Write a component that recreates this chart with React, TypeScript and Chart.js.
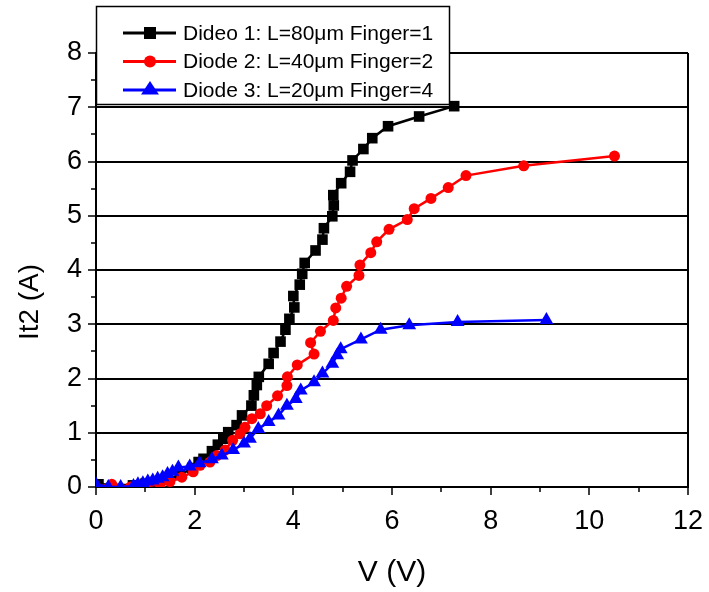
import React, { useEffect, useRef } from "react";
import { Chart, registerables } from "chart.js";

Chart.register(...registerables);

// ---- data ----
const vDiode1 = [0.05, 0.75, 1.0, 1.2, 1.45, 1.7, 1.95, 2.08, 2.18, 2.35, 2.47, 2.58, 2.68, 2.85, 2.96, 3.15, 3.2, 3.26, 3.3, 3.5, 3.6, 3.74, 3.84, 3.92, 4.02, 4.0, 4.13, 4.18, 4.23, 4.45, 4.59, 4.62, 4.79, 4.82, 4.81, 4.97, 5.15, 5.2, 5.42, 5.6, 5.92, 6.55, 7.26];
const iDiode1 = [0.05, 0.03, 0.06, 0.09, 0.14, 0.22, 0.35, 0.46, 0.52, 0.66, 0.78, 0.89, 1.01, 1.14, 1.32, 1.5, 1.69, 1.88, 2.03, 2.27, 2.47, 2.68, 2.9, 3.1, 3.31, 3.52, 3.73, 3.93, 4.13, 4.36, 4.56, 4.77, 4.99, 5.19, 5.38, 5.6, 5.81, 6.02, 6.23, 6.43, 6.65, 6.83, 7.02];

const vDiode2 = [0.0, 0.32, 0.7, 1.0, 1.3, 1.5, 1.74, 1.97, 2.11, 2.31, 2.45, 2.62, 2.77, 2.92, 3.02, 3.16, 3.33, 3.46, 3.68, 3.87, 3.88, 4.08, 4.42, 4.35, 4.55, 4.81, 4.86, 4.97, 5.08, 5.33, 5.35, 5.57, 5.69, 5.94, 6.31, 6.45, 6.79, 7.14, 7.5, 8.67, 10.51];
const iDiode2 = [0.0, 0.05, 0.0, 0.01, 0.05, 0.1, 0.18, 0.28, 0.4, 0.46, 0.58, 0.68, 0.86, 0.98, 1.1, 1.26, 1.35, 1.5, 1.68, 1.87, 2.03, 2.25, 2.45, 2.66, 2.87, 3.07, 3.3, 3.48, 3.7, 3.9, 4.09, 4.32, 4.52, 4.75, 4.93, 5.13, 5.32, 5.52, 5.74, 5.92, 6.1];

const vDiode3 = [0.0, 0.25, 0.5, 0.76, 0.85, 0.95, 1.05, 1.15, 1.25, 1.35, 1.45, 1.55, 1.67, 1.9, 2.1, 2.35, 2.55, 2.78, 3.0, 3.12, 3.29, 3.5, 3.7, 3.87, 4.05, 4.15, 4.42, 4.59, 4.79, 4.89, 4.96, 5.37, 5.77, 6.35, 7.33, 9.13];
const iDiode3 = [0.05, 0.0, 0.0, 0.02, 0.05, 0.07, 0.1, 0.12, 0.15, 0.18, 0.24, 0.28, 0.36, 0.38, 0.44, 0.51, 0.58, 0.68, 0.8, 0.89, 1.07, 1.2, 1.32, 1.5, 1.62, 1.78, 1.93, 2.09, 2.27, 2.43, 2.54, 2.72, 2.9, 2.98, 3.04, 3.08];

const seriesLabels = [
  "Dideo 1: L=80\u03bcm Finger=1",
  "Diode 2: L=40\u03bcm Finger=2",
  "Diode 3: L=20\u03bcm Finger=4",
];
const seriesColors = ["#000000", "#ff0000", "#0000ff"];
const seriesMarkers = ["rect", "circle", "triangle"];
const markerRadius = [7.5, 5.5, 8];

const xTickValues = [0, 2, 4, 6, 8, 10, 12];
const xMinorValues = [1, 3, 5, 7, 9, 11];
const yTickValues = [0, 1, 2, 3, 4, 5, 6, 7, 8];
const yMinorValues = [0.5, 1.5, 2.5, 3.5, 4.5, 5.5, 6.5, 7.5];

const xTitle = "V (V)";
const yTitle = "It2 (A)";

const FONT = "'Liberation Sans', Arial, sans-serif";

const toPoints = (xs: number[], ys: number[]) => xs.map((x, i) => ({ x, y: ys[i] }));

function drawMarker(ctx: CanvasRenderingContext2D, style: string, r: number, x: number, y: number, color: string) {
  ctx.save();
  ctx.fillStyle = color;
  ctx.beginPath();
  if (style === "rect") {
    const h = r * Math.SQRT1_2;
    ctx.rect(x - h, y - h, 2 * h, 2 * h);
  } else if (style === "circle") {
    ctx.arc(x, y, r, 0, Math.PI * 2);
  } else {
    const s = r * 0.866;
    ctx.moveTo(x, y - r);
    ctx.lineTo(x + s * 1.15, y + r * 0.5);
    ctx.lineTo(x - s * 1.15, y + r * 0.5);
    ctx.closePath();
  }
  ctx.fill();
  ctx.restore();
}

const decorPlugin = {
  id: "decor",
  afterDraw(chart: any) {
    const ctx = chart.ctx;
    const xs = chart.scales.x;
    const ys = chart.scales.y;
    const area = chart.chartArea;
    ctx.save();
    // tick marks (major and minor)
    ctx.strokeStyle = "#000";
    ctx.lineWidth = 1.5;
    ctx.beginPath();
    yTickValues.forEach((v) => {
      const p = Math.round(ys.getPixelForValue(v));
      ctx.moveTo(area.left, p);
      ctx.lineTo(area.left - 8, p);
    });
    yMinorValues.forEach((v) => {
      const p = Math.round(ys.getPixelForValue(v));
      ctx.moveTo(area.left, p);
      ctx.lineTo(area.left - 5, p);
    });
    xTickValues.forEach((v) => {
      const p = Math.round(xs.getPixelForValue(v));
      ctx.moveTo(p, area.bottom);
      ctx.lineTo(p, area.bottom + 8);
    });
    xMinorValues.forEach((v) => {
      const p = Math.round(xs.getPixelForValue(v));
      ctx.moveTo(p, area.bottom);
      ctx.lineTo(p, area.bottom + 5);
    });
    ctx.stroke();

    // y title
    ctx.fillStyle = "#000";
    ctx.font = `28px ${FONT}`;
    ctx.textAlign = "center";
    ctx.textBaseline = "middle";
    ctx.translate(30, 302);
    ctx.rotate(-Math.PI / 2);
    ctx.fillText(yTitle, 0, 0);
    ctx.setTransform(1, 0, 0, 1, 0, 0);

    // legend box
    const bx = 96.5, by = 6.5, bw = 353, bh = 98;
    ctx.fillStyle = "#fff";
    ctx.fillRect(bx, by, bw, bh);
    ctx.strokeStyle = "#000";
    ctx.lineWidth = 1.5;
    ctx.strokeRect(bx, by, bw, bh);
    const rows = [33, 61.5, 90];
    rows.forEach((ry, i) => {
      ctx.strokeStyle = seriesColors[i];
      ctx.lineWidth = 3;
      ctx.beginPath();
      ctx.moveTo(123, ry);
      ctx.lineTo(176, ry);
      ctx.stroke();
      drawMarker(ctx, seriesMarkers[i], [8.5, 6, 9][i], 150, ry, seriesColors[i]);
      ctx.fillStyle = "#000";
      ctx.font = `21px ${FONT}`;
      ctx.textAlign = "left";
      ctx.textBaseline = "middle";
      ctx.fillText(seriesLabels[i], 183, ry + 1);
    });
    ctx.restore();
  },
};

export default function App() {
  const ref = useRef<HTMLCanvasElement>(null);
  useEffect(() => {
    if (!ref.current) return;
    Chart.defaults.font.family = FONT;
    const data = [toPoints(vDiode1, iDiode1), toPoints(vDiode2, iDiode2), toPoints(vDiode3, iDiode3)];
    const chart = new Chart(ref.current, {
      type: "line",
      data: {
        datasets: data.map((d, i) => ({
          label: seriesLabels[i],
          data: d,
          borderColor: seriesColors[i],
          backgroundColor: seriesColors[i],
          borderWidth: 2.5,
          pointStyle: seriesMarkers[i] as any,
          pointRadius: markerRadius[i],
          pointBorderWidth: 0,
          pointBackgroundColor: seriesColors[i],
          tension: 0,
          order: 2 - i,
        })),
      },
      options: {
        responsive: false,
        animation: false,
        layout: { padding: { top: 53, right: 21, left: 0, bottom: 0 } },
        plugins: { legend: { display: false }, tooltip: { enabled: false } },
        scales: {
          x: {
            type: "linear",
            min: 0,
            max: 12,
            afterFit: (s: any) => {
              s.height = 105;
              s.paddingLeft = 0;
              s.paddingRight = 0;
            },
            ticks: { stepSize: 2, color: "#000", font: { size: 27 }, padding: 18 },
            grid: {
              drawTicks: false,
              lineWidth: 2,
              color: (c: any) => (c.tick && c.tick.value === 12 ? "#000" : "rgba(0,0,0,0)"),
            },
            border: { color: "#000", width: 2 },
            title: { display: true, text: xTitle, color: "#000", font: { size: 30 }, padding: { top: 0, bottom: 1 } },
          },
          y: {
            type: "linear",
            min: 0,
            max: 8,
            afterFit: (s: any) => {
              s.width = 96;
              s.paddingTop = 0;
              s.paddingBottom = 0;
            },
            ticks: { stepSize: 1, color: "#000", font: { size: 27 }, padding: 14 },
            grid: { drawTicks: false, lineWidth: 2, color: "#000" },
            border: { color: "#000", width: 2 },
          },
        },
      },
      plugins: [decorPlugin],
    });
    return () => chart.destroy();
  }, []);
  return (
    <div style={{ position: "fixed", left: 0, top: 0, width: 709, height: 592, background: "#fff" }}>
      <canvas ref={ref} width={709} height={592} style={{ display: "block" }} />
    </div>
  );
}
